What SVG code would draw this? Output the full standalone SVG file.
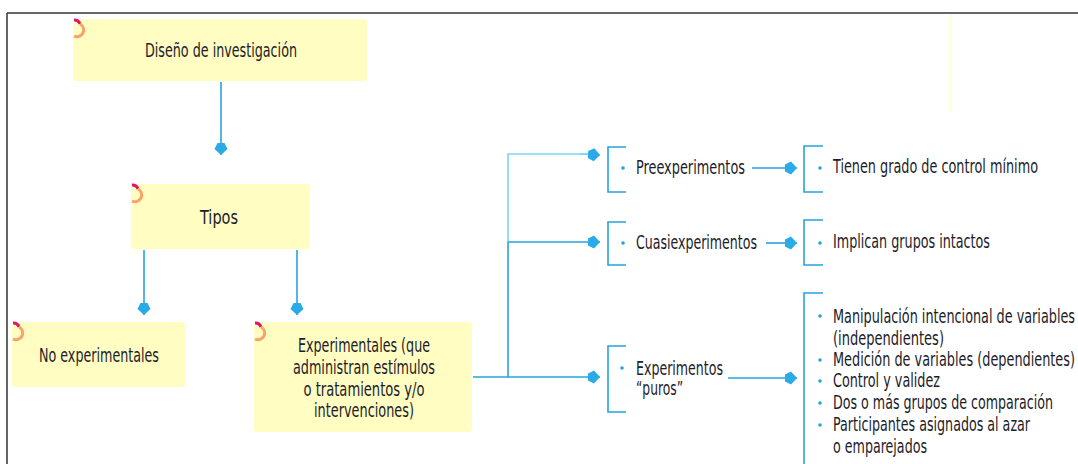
<svg xmlns="http://www.w3.org/2000/svg" width="1078" height="464" viewBox="0 0 1078 464">
<defs>
<style>
.box{fill:#FFFDC2}
.t{font-family:"DejaVu Sans Condensed","Liberation Sans Narrow","Liberation Sans",sans-serif;font-size:19px;fill:#1c1c2a}
.c{text-anchor:middle}
.ln{fill:none;stroke:#27A3DC;stroke-width:1.6}
.lt{fill:none;stroke:#7FD3F4;stroke-width:1.6}
.br{fill:none;stroke:#27A3DC;stroke-width:1.6}
.dot{fill:#27A3DC}
.k1{fill:none;stroke:#E0136E;stroke-width:3}
.k2{fill:none;stroke:#F7A36A;stroke-width:3}
</style>
<marker id="ah" viewBox="-13 -7 14 14" refX="0" refY="0" markerWidth="14" markerHeight="14" markerUnits="userSpaceOnUse" orient="auto">
<path d="M-12,-3.5 L-6,-6.5 L0,0 L-6,6.5 L-12,3.5 Z" fill="#2AAAE6"/>
</marker>
</defs>
<g id="frame">
<line x1="7" y1="13" x2="1078" y2="13" stroke="#333" stroke-width="1.5"/>
<line x1="7" y1="13" x2="7" y2="464" stroke="#333" stroke-width="1.5"/>
<line x1="951" y1="14" x2="951" y2="112" stroke="#FFFFC8" stroke-width="1.5"/>
</g>
<g id="connectors">
<line class="ln" x1="221" y1="82" x2="221" y2="155" marker-end="url(#ah)"/>
<line class="ln" x1="144" y1="250" x2="144" y2="315" marker-end="url(#ah)"/>
<line class="ln" x1="297" y1="250" x2="297" y2="315" marker-end="url(#ah)"/>
<polyline class="lt" points="588,154 508,154 508,242"/>
<line class="ln" x1="508" y1="242" x2="508" y2="377"/>
<line class="ln" x1="473" y1="377" x2="508" y2="377"/>
<line class="lt" x1="580" y1="154" x2="600" y2="155" marker-end="url(#ah)"/>
<line class="ln" x1="508" y1="242" x2="600" y2="242" marker-end="url(#ah)"/>
<line class="ln" x1="508" y1="377" x2="600" y2="377" marker-end="url(#ah)"/>
<line class="ln" x1="752" y1="168" x2="797" y2="168" marker-end="url(#ah)"/>
<line class="ln" x1="766" y1="243" x2="797" y2="243" marker-end="url(#ah)"/>
<line class="ln" x1="728" y1="378" x2="797" y2="378" marker-end="url(#ah)"/>
</g>
<g id="n-diseno">
<rect class="box" x="73" y="19" width="294" height="62" rx="3"/>
<path class="k1" d="M74,20 A6,6 0 0 1 80,24"/><path class="k2" d="M80,24 A6,6 0 0 1 74,36"/>
<text class="t c" x="221" y="57" textLength="152" lengthAdjust="spacingAndGlyphs">Diseño de investigación</text>
</g>
<g id="n-tipos">
<rect class="box" x="131" y="184" width="179" height="65" rx="3"/>
<path class="k1" d="M132,185 A6,6 0 0 1 138,189"/><path class="k2" d="M138,189 A6,6 0 0 1 132,201"/>
<text class="t c" x="219" y="224" textLength="38" lengthAdjust="spacingAndGlyphs">Tipos</text>
</g>
<g id="n-noexp">
<rect class="box" x="12" y="322" width="173" height="65" rx="3"/>
<path class="k1" d="M13,323 A6,6 0 0 1 19,327"/><path class="k2" d="M19,327 A6,6 0 0 1 13,339"/>
<text class="t c" x="99" y="362" textLength="120" lengthAdjust="spacingAndGlyphs">No experimentales</text>
</g>
<g id="n-exp">
<rect class="box" x="254" y="322" width="218" height="110" rx="3"/>
<path class="k1" d="M255,323 A6,6 0 0 1 261,327"/><path class="k2" d="M261,327 A6,6 0 0 1 255,339"/>
<text class="t c" x="364" y="352" textLength="132" lengthAdjust="spacingAndGlyphs">Experimentales (que</text>
<text class="t c" x="364" y="374" textLength="142" lengthAdjust="spacingAndGlyphs">administran estímulos</text>
<text class="t c" x="364" y="396" textLength="121" lengthAdjust="spacingAndGlyphs">o tratamientos y/o</text>
<text class="t c" x="364" y="417" textLength="100" lengthAdjust="spacingAndGlyphs">intervenciones)</text>
</g>
<g id="n-pre">
<polyline class="br" points="626,147 608,147 608,192 626,192"/>
<circle class="dot" cx="623" cy="168" r="1.8"/>
<text class="t" x="636" y="174" textLength="109" lengthAdjust="spacingAndGlyphs">Preexperimentos</text>
</g>
<g id="n-cuasi">
<polyline class="br" points="626,222 608,222 608,265 626,265"/>
<circle class="dot" cx="623" cy="243" r="1.8"/>
<text class="t" x="636" y="249" textLength="121" lengthAdjust="spacingAndGlyphs">Cuasiexperimentos</text>
</g>
<g id="n-puros">
<polyline class="br" points="626,346 608,346 608,412 626,412"/>
<circle class="dot" cx="622" cy="368" r="1.8"/>
<text class="t" x="636" y="375" textLength="87" lengthAdjust="spacingAndGlyphs">Experimentos</text>
<text class="t" x="636" y="395" textLength="47" lengthAdjust="spacingAndGlyphs">“puros”</text>
</g>
<g id="n-tienen">
<polyline class="br" points="823,146 804,146 804,192 823,192"/>
<circle class="dot" cx="820" cy="168" r="1.8"/>
<text class="t" x="833" y="173" textLength="205" lengthAdjust="spacingAndGlyphs">Tienen grado de control mínimo</text>
</g>
<g id="n-implican">
<polyline class="br" points="823,220 804,220 804,265 823,265"/>
<circle class="dot" cx="820" cy="243" r="1.8"/>
<text class="t" x="833" y="248" textLength="157" lengthAdjust="spacingAndGlyphs">Implican grupos intactos</text>
</g>
<g id="n-caract">
<polyline class="br" points="823,293 804,293 804,466"/>
<circle class="dot" cx="820" cy="316" r="1.8"/>
<circle class="dot" cx="820" cy="360" r="1.8"/>
<circle class="dot" cx="820" cy="381" r="1.8"/>
<circle class="dot" cx="820" cy="403" r="1.8"/>
<circle class="dot" cx="820" cy="425" r="1.8"/>
<text class="t" x="833" y="323" textLength="242" lengthAdjust="spacingAndGlyphs">Manipulación intencional de variables</text>
<text class="t" x="833" y="345" textLength="111" lengthAdjust="spacingAndGlyphs">(independientes)</text>
<text class="t" x="833" y="366" textLength="242" lengthAdjust="spacingAndGlyphs">Medición de variables (dependientes)</text>
<text class="t" x="833" y="387" textLength="107" lengthAdjust="spacingAndGlyphs">Control y validez</text>
<text class="t" x="833" y="409" textLength="220" lengthAdjust="spacingAndGlyphs">Dos o más grupos de comparación</text>
<text class="t" x="833" y="431" textLength="197" lengthAdjust="spacingAndGlyphs">Participantes asignados al azar</text>
<text class="t" x="833" y="453" textLength="94" lengthAdjust="spacingAndGlyphs">o emparejados</text>
</g>
</svg>
